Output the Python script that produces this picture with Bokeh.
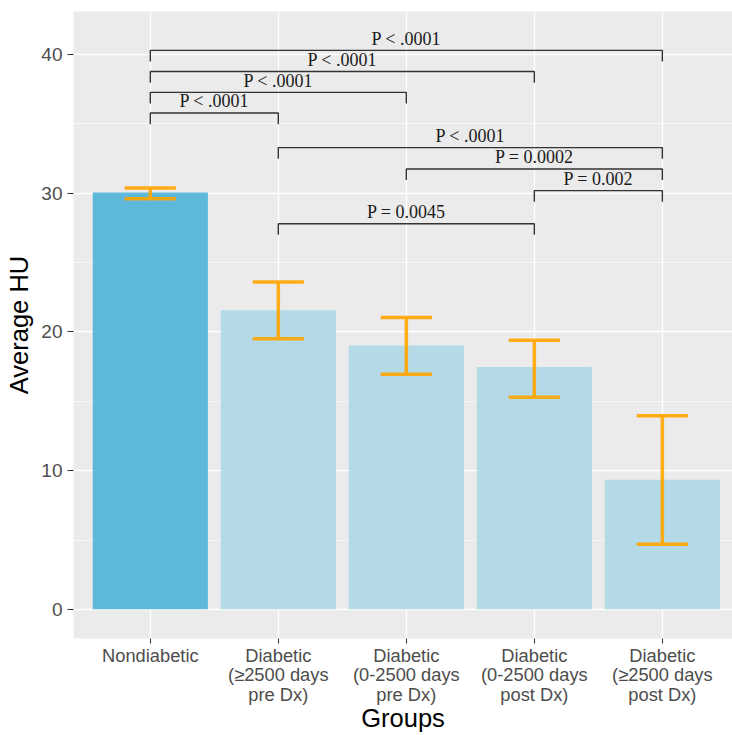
from bokeh.plotting import figure
from bokeh.models import FixedTicker, SingleIntervalTicker, Range1d, ColumnDataSource
from bokeh.embed import file_html
from bokeh.resources import INLINE
from bokeh.core.properties import value

# ---- data ----
groups = ["Nondiabetic",
          "Diabetic\n(\u22652500 days\npre Dx)",
          "Diabetic\n(0-2500 days\npre Dx)",
          "Diabetic\n(0-2500 days\npost Dx)",
          "Diabetic\n(\u22652500 days\npost Dx)"]
mean_hu = [30.05, 21.57, 19.03, 17.47, 9.35]
err_low = [29.6, 19.5, 16.95, 15.3, 4.7]
err_high = [30.37, 23.6, 21.04, 19.4, 13.95]
bar_colors = ["#4FB3D8", "#ADD8E6", "#ADD8E6", "#ADD8E6", "#ADD8E6"]

brk_from = [1, 1, 1, 1, 2, 3, 4, 2]
brk_to = [5, 4, 3, 2, 5, 5, 5, 4]
brk_y = [40.3, 38.77, 37.27, 35.78, 33.29, 31.75, 30.19, 27.8]
brk_label = ["P < .0001", "P < .0001", "P < .0001", "P < .0001",
             "P < .0001", "P = 0.0002", "P = 0.002", "P = 0.0045"]

yticks = [0, 10, 20, 30, 40]

# ---- derived ----
xpos = list(range(1, len(groups) + 1))
tip = 0.8

p = figure(width=732, height=735, output_backend="svg", toolbar_location=None,
           x_range=Range1d(0.4, 5.548), y_range=Range1d(-2.1, 43.1),
           min_border_left=73, min_border_right=0, min_border_top=11,
           min_border_bottom=95)
p.background_fill_color = "#EBEBEB"
p.border_fill_color = "white"
p.outline_line_color = None

# grid
p.xgrid.ticker = FixedTicker(ticks=xpos)
p.ygrid.ticker = SingleIntervalTicker(interval=10, num_minor_ticks=2)
for g in (p.xgrid, p.ygrid):
    g.grid_line_color = "white"
    g.grid_line_width = 1.3
p.ygrid.minor_grid_line_color = "white"
p.ygrid.minor_grid_line_width = 0.6

# bars
src = ColumnDataSource(dict(x=xpos, top=mean_hu, color=bar_colors,
                            lo=err_low, hi=err_high))
p.vbar(x="x", top="top", bottom=0, width=0.9, fill_color="color",
       fill_alpha=0.9, line_color=None, source=src)

# error bars
ecol = "#FFA500"
p.segment(x0="x", x1="x", y0="lo", y1="hi", line_color=ecol, line_width=3.5,
          line_alpha=0.9, source=src)
cap_l = [x - 0.2 for x in xpos]
cap_r = [x + 0.2 for x in xpos]
p.segment(x0=cap_l, x1=cap_r, y0=err_low, y1=err_low, line_color=ecol,
          line_width=3.5, line_alpha=0.9)
p.segment(x0=cap_l, x1=cap_r, y0=err_high, y1=err_high, line_color=ecol,
          line_width=3.5, line_alpha=0.9)

# significance brackets
bx, by = [], []
for a, b, y in zip(brk_from, brk_to, brk_y):
    bx.append([a, a, b, b])
    by.append([y - tip, y, y, y - tip])
p.multi_line(xs=bx, ys=by, line_color="#333333", line_width=1.4)
mid = [(a + b) / 2 for a, b in zip(brk_from, brk_to)]
p.text(x=mid, y=[y + 0.12 for y in brk_y], text=brk_label,
       text_align="center", text_baseline="bottom",
       text_font=value("Liberation Serif"), text_font_size="18px",
       text_color="#1A1A1A")

# axes
p.xaxis.ticker = FixedTicker(ticks=xpos)
p.xaxis.major_label_overrides = {x: g for x, g in zip(xpos, groups)}
p.yaxis.ticker = FixedTicker(ticks=yticks)
p.xaxis.axis_label = "Groups"
p.yaxis.axis_label = "Average HU"
for ax in (p.xaxis, p.yaxis):
    ax.axis_line_color = None
    ax.major_tick_in = 0
    ax.major_tick_line_color = "#333333"
    ax.minor_tick_line_color = None
    ax.major_label_text_color = "#4D4D4D"
    ax.major_label_text_font = "Liberation Sans"
    ax.axis_label_text_font = "Liberation Sans"
    ax.axis_label_text_font_style = "normal"
    ax.axis_label_text_font_size = "25.5px"
    ax.axis_label_text_color = "black"
p.xaxis.major_tick_out = 5
p.yaxis.major_tick_out = 6
p.xaxis.major_label_text_font_size = "18.3px"
p.xaxis.major_label_text_line_height = 0.95
p.xaxis.major_label_standoff = 1
p.yaxis.major_label_text_font_size = "19px"
p.yaxis.major_label_standoff = 5
p.xaxis.axis_label_standoff = -4
p.yaxis.axis_label_standoff = 5

open("out.html", "w").write(file_html(p, INLINE))
